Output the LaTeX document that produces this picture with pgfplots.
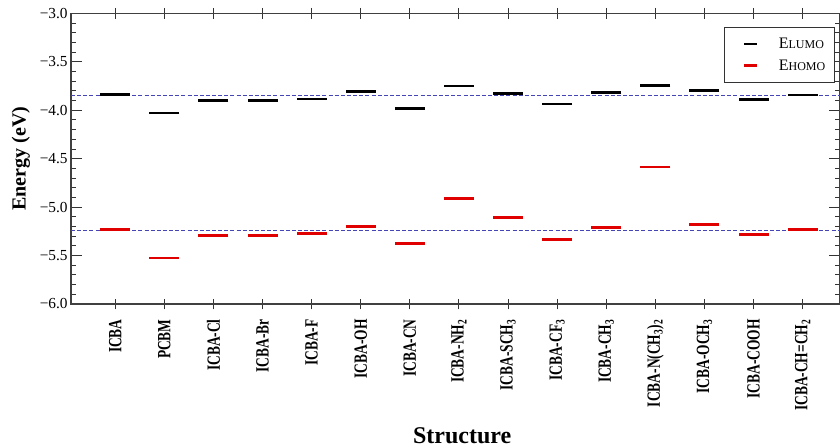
\documentclass[border=0pt]{standalone}
\usepackage{fontspec}
\setmainfont{Liberation Serif}
\newfontfamily\catfont[FakeStretch=0.72]{Liberation Serif}
\usepackage{pgfplots}
\pgfplotsset{compat=1.18}
\definecolor{homored}{HTML}{E00000}
\definecolor{refblue}{HTML}{4545B5}
\begin{document}
\begin{tikzpicture}
\useasboundingbox (-53.25pt,-108pt) rectangle (576.75pt,228pt);
\begin{axis}[
  at={(0pt,0pt)}, anchor=south west,
  scale only axis, width=576.75pt, height=218pt,
  xmin=-0.9, xmax=14.76, ymin=-6, ymax=-3,
  xtick={0,...,14},
  xticklabels={{ICBA},{PCBM},{ICBA-Cl},{ICBA-Br},{ICBA-F},{ICBA-OH},{ICBA-CN},{ICBA-NH\textsubscript{2}},{ICBA-SCH\textsubscript{3}},{ICBA-CF\textsubscript{3}},{ICBA-CH\textsubscript{3}},{ICBA-N(CH\textsubscript{3})\textsubscript{2}},{ICBA-OCH\textsubscript{3}},{ICBA-COOH},{ICBA-CH{=}CH\textsubscript{2}}},
  xticklabel style={rotate=90, anchor=east, font=\catfont\bfseries\fontsize{14}{16}\selectfont, xshift=-4pt},
  ytick={-6,-5.5,-5,-4.5,-4,-3.5,-3},
  yticklabels={−6.0,−5.5,−5.0,−4.5,−4.0,−3.5,−3.0},
  yticklabel style={font=\fontsize{11.5}{13}\selectfont, xshift=1pt},
  minor y tick num=4,
  x tick style={black!80, line width=0.7pt},
  y tick style={black!80, line width=0.7pt},
  xtick align=center, ytick align=inside,
  major tick length=8pt, minor tick length=3.8pt,
  axis line style={black!75, line width=0.9pt},
  xlabel={Structure},
  xlabel style={at={(axis description cs:0.5,0)}, anchor=center, yshift=-99pt, xshift=5pt, font=\bfseries\fontsize{18}{20}\selectfont},
  ylabel={Energy (eV)},
  ylabel style={at={(axis description cs:0,0.5)}, anchor=center, yshift=37.5pt, font=\bfseries\fontsize{15}{17}\selectfont},
  legend style={at={(axis description cs:1,1)}, anchor=north east, xshift=-3.75pt, yshift=-10pt,
    draw=black!80, line width=0.6pt, font=\fontsize{12}{14}\selectfont,
    row sep=3pt, inner xsep=5pt, inner ysep=6pt, cells={anchor=west}},
  legend image code/.code={\path[draw=none, fill=none] (-10pt,-2pt) rectangle (24pt,2pt); \draw[#1, line width=2.2pt] (0pt,0pt) -- (10pt,0pt);},
]
\addplot[only marks, mark=-, mark size=11.25pt, black, mark options={line width=2pt, black}] coordinates {
(0,-3.836) (1,-4.029) (2,-3.902) (3,-3.902) (4,-3.884) (5,-3.809) (6,-3.985) (7,-3.750)
(8,-3.826) (9,-3.936) (10,-3.815) (11,-3.743) (12,-3.799) (13,-3.892) (14,-3.843)};
\addlegendentry{E{\fontsize{9}{10}\selectfont LUMO}}
\addplot[only marks, mark=-, mark size=11.25pt, homored, mark options={line width=2.2pt, homored}] coordinates {
(0,-5.229) (1,-5.525) (2,-5.295) (3,-5.295) (4,-5.275) (5,-5.202) (6,-5.378) (7,-4.913)
(8,-5.109) (9,-5.332) (10,-5.213) (11,-4.586) (12,-5.182) (13,-5.285) (14,-5.229)};
\addlegendentry{E{\fontsize{9}{10}\selectfont HOMO}}
\addplot[refblue, line width=0.7pt, dash pattern=on 3pt off 1.6pt, forget plot] coordinates {(-0.9,-3.843) (14.76,-3.843)};
\addplot[refblue, line width=0.7pt, dash pattern=on 3pt off 1.6pt, forget plot] coordinates {(-0.9,-5.239) (14.76,-5.239)};
\end{axis}
\end{tikzpicture}
\end{document}
